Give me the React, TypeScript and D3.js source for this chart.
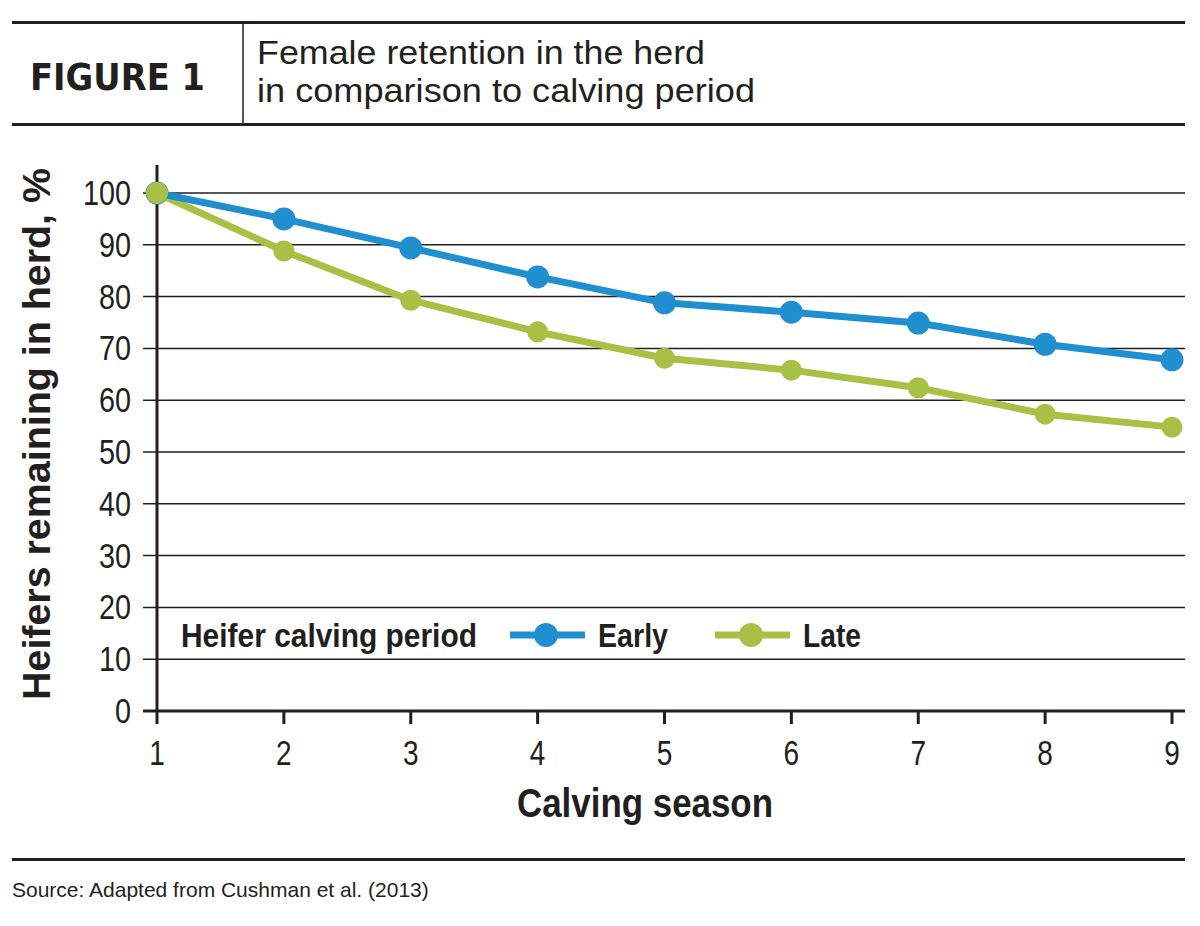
import { useEffect, useRef } from 'react';
import * as d3 from 'd3';

const seasons = [1, 2, 3, 4, 5, 6, 7, 8, 9];
const earlyValues = [100, 95, 89.4, 83.8, 78.8, 77, 74.9, 70.8, 67.8];
const lateValues = [100, 88.8, 79.3, 73.2, 68.1, 65.8, 62.4, 57.3, 54.8];
const yTicks = [0, 10, 20, 30, 40, 50, 60, 70, 80, 90, 100];
const seriesNames = ['Early', 'Late'];
const seriesColors = ['#1f8fcf', '#a8c144'];

const sans = '"Liberation Sans", Arial, sans-serif';
const ink = '#231f20';
const squeeze = 0.8;

export default function App() {
	const svgRef = useRef<SVGSVGElement>(null);
	const width = 1200;
	const height = 926;

	useEffect(() => {
		const svg = d3.select(svgRef.current);
		svg.selectAll('*').remove();

		const x = d3.scaleLinear().domain([1, 9]).range([157, 1172]);
		const y = d3.scaleLinear().domain([0, 100]).range([711, 193]);

		// narrow text: Liberation Sans squeezed horizontally
		const narrowText = (tx, ty, str, size, bold = false, anchor = 'start', rot = 0) =>
			svg.append('text')
				.attr('transform', `translate(${tx},${ty}) rotate(${rot}) scale(${squeeze},1)`)
				.attr('text-anchor', anchor)
				.attr('font-family', sans).attr('font-size', size)
				.attr('font-weight', bold ? 'bold' : 'normal').attr('fill', ink)
				.text(str);

		// header
		svg.append('rect').attr('x', 12).attr('y', 21).attr('width', 1173).attr('height', 3).attr('fill', ink);
		svg.append('rect').attr('x', 12).attr('y', 123).attr('width', 1173).attr('height', 3).attr('fill', ink);
		svg.append('line').attr('x1', 243).attr('x2', 243).attr('y1', 24).attr('y2', 123)
			.attr('stroke', ink).attr('stroke-width', 1.5);
		svg.append('text').attr('x', 30).attr('y', 90).text('FIGURE 1')
			.attr('font-family', '"DejaVu Sans", sans-serif').attr('font-weight', 'bold')
			.attr('font-size', 38).attr('fill', ink)
			.attr('textLength', 175).attr('lengthAdjust', 'spacingAndGlyphs');
		narrowText(257, 64, 'Female retention in the herd', 33).attr('textLength', 448 / squeeze).attr('lengthAdjust', 'spacingAndGlyphs');
		narrowText(257, 102, 'in comparison to calving period', 33).attr('textLength', 498 / squeeze).attr('lengthAdjust', 'spacingAndGlyphs');

		// grid lines
		svg.append('g').selectAll('line').data(yTicks).join('line')
			.attr('x1', 143).attr('x2', 1185)
			.attr('y1', d => y(d)).attr('y2', d => y(d))
			.attr('stroke', ink).attr('stroke-width', d => (d === 0 ? 3 : 1.5));

		// y axis
		svg.append('line').attr('x1', 157).attr('x2', 157).attr('y1', 165).attr('y2', 711)
			.attr('stroke', ink).attr('stroke-width', 3);
		yTicks.forEach(d => narrowText(131, y(d) + 12, String(d), 36, false, 'end'));

		// x ticks
		svg.append('g').selectAll('line').data(seasons).join('line')
			.attr('x1', d => x(d)).attr('x2', d => x(d)).attr('y1', 711).attr('y2', 724)
			.attr('stroke', ink).attr('stroke-width', 3);
		seasons.forEach(d => narrowText(x(d), 765, String(d), 35, false, 'middle'));

		// axis titles
		narrowText(645, 817, 'Calving season', 40, true, 'middle')
			.attr('textLength', 256 / squeeze).attr('lengthAdjust', 'spacingAndGlyphs');
		narrowText(50, 434, 'Heifers remaining in herd, %', 38, true, 'middle', -90)
			.attr('textLength', 532 / squeeze).attr('lengthAdjust', 'spacingAndGlyphs');

		// lines
		const line = d3.line<number>().x((_, i) => x(seasons[i])).y(d => y(d));
		[lateValues, earlyValues].forEach((vals, k) => {
			const color = seriesColors[1 - k];
			const r = k === 0 ? 10.5 : 11.5;
			const g = svg.append('g');
			g.append('path').attr('d', line(vals)).attr('fill', 'none')
				.attr('stroke', color).attr('stroke-width', 7).attr('stroke-linejoin', 'round');
			g.selectAll('circle').data(vals).join('circle')
				.attr('cx', (_, i) => x(seasons[i])).attr('cy', d => y(d)).attr('r', r)
				.attr('fill', color);
		});
		svg.append('circle').attr('cx', x(1)).attr('cy', y(lateValues[0])).attr('r', 11).attr('fill', seriesColors[1]);

		// legend
		narrowText(181, 647, 'Heifer calving period', 33, true)
			.attr('textLength', 296 / squeeze).attr('lengthAdjust', 'spacingAndGlyphs');
		const legendX = [510, 715];
		const legendW = [70, 58];
		seriesNames.forEach((name, i) => {
			const lx = legendX[i];
			svg.append('line').attr('x1', lx).attr('x2', lx + 75).attr('y1', 635).attr('y2', 635)
				.attr('stroke', seriesColors[i]).attr('stroke-width', 7);
			svg.append('circle').attr('cx', lx + 36).attr('cy', 635).attr('r', 12).attr('fill', seriesColors[i]);
			narrowText(lx + 88, 647, name, 33, true)
				.attr('textLength', legendW[i] / squeeze).attr('lengthAdjust', 'spacingAndGlyphs');
		});

		// footer
		svg.append('rect').attr('x', 12).attr('y', 858).attr('width', 1173).attr('height', 3).attr('fill', ink);
		svg.append('text').attr('x', 12).attr('y', 897)
			.attr('font-family', sans).attr('font-size', 21).attr('fill', ink)
			.text('Source: Adapted from Cushman et al. (2013)');
	}, []);

	return (
		<svg ref={svgRef} width={width} height={height}
			style={{ position: 'absolute', left: 0, top: 0, background: '#fff' }} />
	);
}
